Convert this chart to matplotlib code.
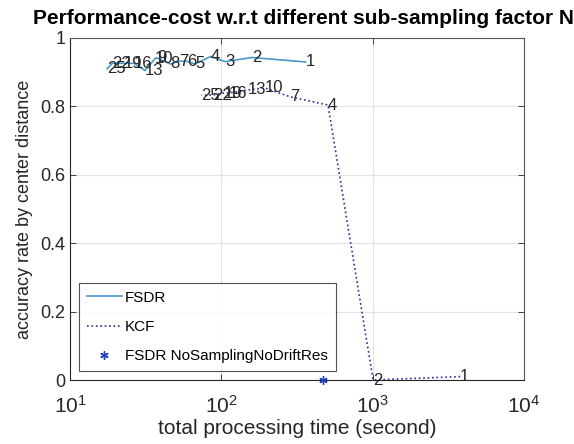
import numpy as np
import matplotlib.pyplot as plt
from matplotlib.ticker import FixedLocator, NullLocator

plt.rcParams['font.family'] = ['Liberation Sans', 'DejaVu Sans']
plt.rcParams['mathtext.fontset'] = 'custom'
plt.rcParams['mathtext.rm'] = 'Liberation Sans'
plt.rcParams['mathtext.it'] = 'Liberation Sans:italic'

# data
fsdr_n = [1, 2, 3, 4, 5, 6, 7, 8, 9, 10, 13, 16, 19, 22, 25]
fsdr_time = [360, 159, 106, 85, 67, 59, 53, 46, 37.6, 36.5, 31.3, 26.5, 22.6, 19, 17.6]
fsdr_acc = [0.930, 0.943, 0.931, 0.946, 0.924, 0.932, 0.932, 0.924, 0.942, 0.940,
            0.905, 0.926, 0.926, 0.926, 0.910]

kcf_n = [1, 2, 4, 7, 10, 13, 16, 19, 22, 25]
kcf_time = [3786, 1007, 507, 285, 194, 150, 112, 103, 88, 74]
kcf_acc = [0.01, 0.0, 0.804, 0.828, 0.854, 0.848, 0.839, 0.839, 0.833, 0.833]

nosamp_time = [470]
nosamp_acc = [0.0]

fig = plt.figure(figsize=(5.74, 4.44), dpi=100)
ax = fig.add_axes([70 / 574, 1 - 380 / 444, 454 / 574, 342 / 444])

ax.plot(fsdr_time, fsdr_acc, '-', color='#4a98cc', lw=1.2, label='FSDR')
ax.plot(kcf_time, kcf_acc, ':', color='#2c2c9c', lw=1.2, label='KCF')
ax.plot(nosamp_time, nosamp_acc, marker=(6, 2, 0), color='#1f3fbf', ms=6, ls='none',
        mew=1.0, label='FSDR NoSamplingNoDriftRes', clip_on=False, zorder=5)

for n, t, a in zip(fsdr_n, fsdr_time, fsdr_acc):
    ax.text(t, a, str(n), ha='left', va='center', fontsize=12, color='#262626')
for n, t, a in zip(kcf_n, kcf_time, kcf_acc):
    ax.text(t, a, str(n), ha='left', va='center', fontsize=12, color='#262626')

ax.set_xscale('log')
ax.set_xlim(10, 1e4)
ax.set_ylim(0, 1)
ax.xaxis.set_minor_locator(NullLocator())
ax.yaxis.set_major_locator(FixedLocator([0, 0.2, 0.4, 0.6, 0.8, 1]))
ax.set_yticklabels(['0', '0.2', '0.4', '0.6', '0.8', '1'])

ax.grid(True, color='#e3e3e3', lw=0.8)
ax.set_axisbelow(True)
ax.tick_params(direction='in', top=True, right=True, labelsize=13, colors='#262626',
               length=4, width=0.6)
ax.tick_params(axis='x', labelsize=15, pad=11)
for s in ax.spines.values():
    s.set_color('#555555')
    s.set_linewidth(0.8)
ax.spines['bottom'].set_color('#262626')
ax.spines['left'].set_color('#262626')

ax.set_xlabel('total processing time (second)', fontsize=15, color='#262626', labelpad=1)
ax.set_ylabel('accuracy rate by center distance', fontsize=13, color='#262626', labelpad=5)
ax.set_title('Performance-cost w.r.t different sub-sampling factor N', fontsize=15,
             fontweight='bold', pad=10, x=0.515)

leg = ax.legend(loc='lower left', fontsize=11, frameon=True, fancybox=False,
                edgecolor='#262626', borderaxespad=0.6, handlelength=2.3,
                labelspacing=1.0, borderpad=0.5, handletextpad=0.2)
leg.get_frame().set_linewidth(0.8)

fig.savefig('out.png', dpi=100)
